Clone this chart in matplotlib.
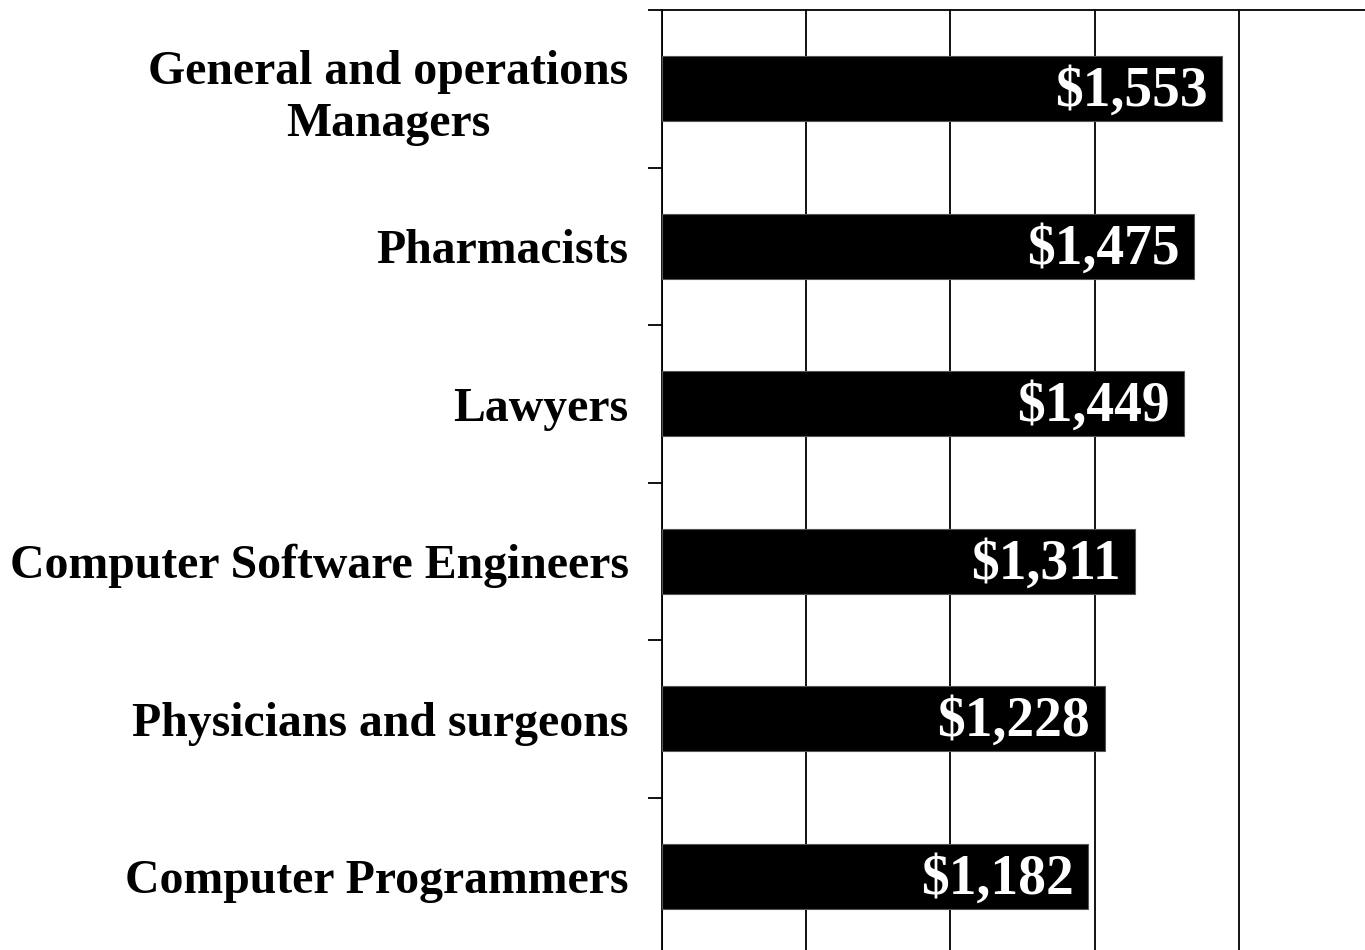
import numpy as np
import matplotlib.pyplot as plt

categories = ['General and operations\nManagers', 'Pharmacists', 'Lawyers',
              'Computer Software Engineers', 'Physicians and surgeons',
              'Computer Programmers']
values = [1553, 1475, 1449, 1311, 1228, 1182]
labels = ['$1,553', '$1,475', '$1,449', '$1,311', '$1,228', '$1,182']

plt.rcParams['font.family'] = 'Liberation Serif'
plt.rcParams['font.weight'] = 'bold'

fig = plt.figure(figsize=(13.65, 9.5), dpi=100)
ax = fig.add_axes([662/1365, 1 - 955/950, 721/1365, 945/950])

ind = np.arange(len(categories))
ax.barh(ind, values, height=0.415, color='black', edgecolor='#555555',
        linewidth=0.8, zorder=3)

for i, (v, lab) in enumerate(zip(values, labels)):
    ax.text(v - 40, i + 0.02, lab, color='white', ha='right', va='center',
            fontsize=40, fontweight='bold', zorder=4)

ax.set_xlim(0, 2000)
ax.set_ylim(len(categories) - 0.5, -0.5)
ax.set_xticks(np.arange(0, 2001, 400))
ax.xaxis.grid(True, color='black', linewidth=1.3)
ax.set_axisbelow(True)
ax.tick_params(axis='x', bottom=False, labelbottom=False)

ax.set_yticks(np.arange(-0.5, len(categories), 1))
ax.set_yticklabels([])
ax.tick_params(axis='y', which='major', length=10, width=1.3, direction='out')
ax.set_yticks(ind, minor=True)
ax.set_yticklabels(categories, minor=True, fontsize=34.4, fontweight='bold',
                   multialignment='center', linespacing=1.25)
ax.tick_params(axis='y', which='minor', length=0, pad=24)

for s in ['top', 'left', 'bottom', 'right']:
    ax.spines[s].set_linewidth(1.3)

plt.savefig('out.png', dpi=100)
